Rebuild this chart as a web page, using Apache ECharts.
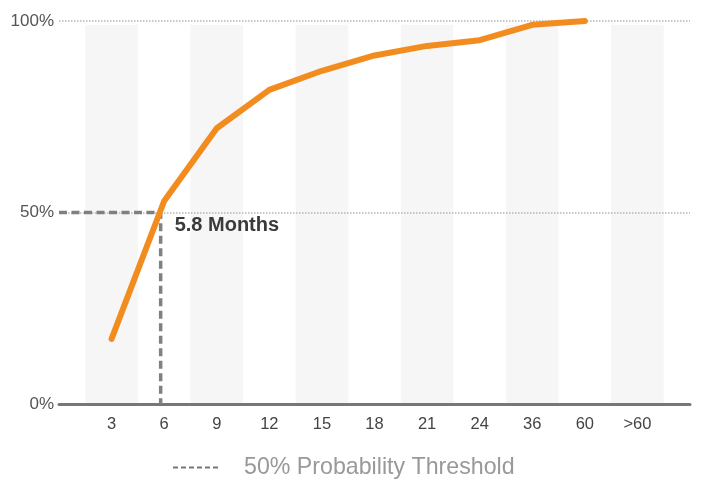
<!DOCTYPE html>
<html>
<head>
<meta charset="utf-8">
<script src="https://cdn.jsdelivr.net/npm/echarts@6/dist/echarts.min.js"></script>
<style>
html,body{margin:0;padding:0;background:#fff;}
#chart{width:710px;height:482px;}
</style>
</head>
<body>
<div id="chart"></div>
<script>
// ---- data ----
var categories = ['3', '6', '9', '12', '15', '18', '21', '24', '36', '60', '>60'];
var cumulative = [17, 53, 72, 82, 87, 91, 93.5, 95, 99, 100, null];
var shadedBands = [99, null, 99, null, 99, null, 99, null, 99, null, 99];
var yTicks = [0, 50, 100];
var thresholdMonths = 5.8;
var thresholdPct = 50;
var thresholdLabel = '5.8 Months';
var legendName = '50% Probability Threshold';

// ---- build ----
// pad one empty slot on each side of the category axis
var axisCats = [''].concat(categories, ['']);
var lineData = [null].concat(cumulative, [null]);
var bandData = [null].concat(shadedBands, [null]);
// threshold x position: between categories '3' (index 1) and '6' (index 2)
var tx = 1 + (thresholdMonths - 3) / 3;

var font = '"Liberation Sans", Arial, sans-serif';
var chart = echarts.init(document.getElementById('chart'));
chart.setOption({
  animation: false,
  backgroundColor: '#fff',
  textStyle: { fontFamily: font },
  grid: { left: 59, right: 20, top: 21, bottom: 78, containLabel: false },
  legend: {
    data: [legendName],
    left: 173,
    top: 456,
    padding: 0,
    icon: 'path://M0,0H5V2H0Z M8,0H13V2H8Z M16,0H21V2H16Z M24,0H29V2H24Z M32,0H37V2H32Z M40,0H45V2H40Z',
    itemWidth: 45,
    itemHeight: 2,
    itemStyle: { color: '#777', borderWidth: 0 },
    textStyle: { fontFamily: font, fontSize: 23.2, color: '#999', padding: [0, 0, 0, 21] },
    selectedMode: false
  },
  xAxis: [{
    type: 'category',
    data: axisCats,
    boundaryGap: false,
    z: 5,
    axisLine: { lineStyle: { color: '#777', width: 3 } },
    axisTick: { show: false },
    axisLabel: { interval: 0, color: '#444', fontSize: 16.5, margin: 12, fontFamily: font },
    splitLine: { show: false }
  }, {
    type: 'value',
    min: 0,
    max: axisCats.length - 1,
    show: false
  }],
  yAxis: {
    type: 'value',
    min: yTicks[0],
    max: yTicks[yTicks.length - 1],
    interval: 50,
    z: 4,
    axisLine: { show: false },
    axisTick: { show: false },
    axisLabel: { color: '#555', fontSize: 17, margin: 5, fontFamily: font, formatter: '{value}%' },
    splitLine: { lineStyle: { color: '#b5b5b5', type: 'dotted', width: 1.5 } }
  },
  series: [{
    name: 'bands',
    type: 'bar',
    data: bandData,
    barWidth: '100%',
    itemStyle: { color: '#f6f6f6' },
    silent: true,
    z: 1
  }, {
    name: 'cumulative',
    type: 'line',
    data: lineData,
    symbol: 'none',
    lineStyle: { color: '#f28c1f', width: 6, cap: 'round', join: 'round' },
    itemStyle: { color: '#f28c1f' },
    z: 7
  }, {
    name: legendName,
    type: 'line',
    xAxisIndex: 1,
    symbol: 'circle',
    symbolSize: 0,
    itemStyle: { color: '#808080' },
    lineStyle: { color: '#808080', width: 3.5, type: [8, 4.5] },
    data: [
      [0, thresholdPct],
      { value: [tx, thresholdPct], label: { show: true, position: 'right', offset: [9, 13], formatter: thresholdLabel, fontSize: 20, fontWeight: 'bold', color: '#3a3a3a', fontFamily: font } },
      [tx, 0]
    ],
    z: 6
  }]
});
</script>
</body>
</html>
